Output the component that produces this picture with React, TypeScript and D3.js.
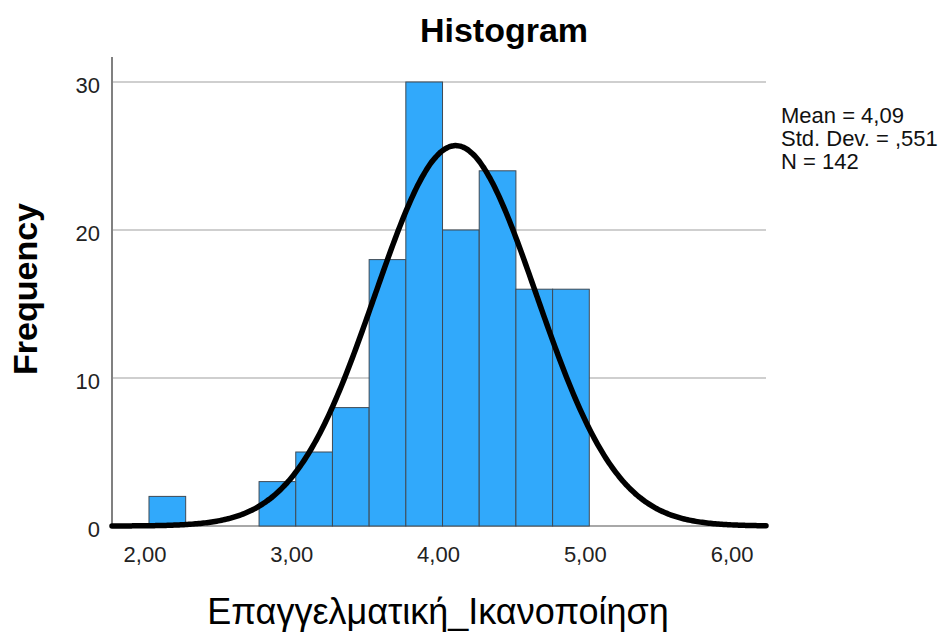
import React from "react";
import * as d3 from "d3";

const binStarts = [2.0, 2.75, 3.0, 3.25, 3.5, 3.75, 4.0, 4.25, 4.5, 4.75];
const binCounts = [2, 3, 5, 8, 18, 30, 20, 24, 16, 16];
const binWidth = 0.25;
const xTicks = [2, 3, 4, 5, 6];
const yTicks = [0, 10, 20, 30];
const statMean = 4.09;
const statSd = 0.551;
const statN = 142;
const statLines = ["Mean = 4,09", "Std. Dev. = ,551", "N = 142"];

const W = 946;
const H = 633;
const left = 112;
const right = 766;
const top = 57;
const bottom = 526;

export default function App() {
  const x = d3.scaleLinear().domain([1.748, 6.204]).range([left, right]);
  const y = d3.scaleLinear().domain([0, 30]).range([bottom, 82]);
  const font = "'Liberation Sans', Arial, sans-serif";
  const fmt = (v: number) => v.toFixed(2).replace(".", ",");

  const pdf = (v: number) =>
    (statN * binWidth) / (statSd * Math.sqrt(2 * Math.PI)) *
    Math.exp(-0.5 * ((v - statMean) / statSd) ** 2);
  const xs = d3.range(0, 401).map((i) => 1.748 + (i / 400) * (6.204 - 1.748));
  const line = d3
    .line<number>()
    .x((v) => x(v))
    .y((v) => y(pdf(v)))
    .curve(d3.curveBasis);

  return (
    <svg width={W} height={H} style={{ position: "absolute", left: 0, top: 0 }}>
      <rect x={0} y={0} width={W} height={H} fill="#fff" />
      <text x={504} y={42} textAnchor="middle" fontFamily={font} fontWeight="bold" fontSize={34}>
        Histogram
      </text>
      {yTicks.filter((t) => t > 0).map((t) => (
        <line key={t} x1={left} x2={right} y1={y(t)} y2={y(t)} stroke="#cfcfcf" strokeWidth={2} />
      ))}
      <line x1={left} x2={right} y1={bottom} y2={bottom} stroke="#a8a8a8" strokeWidth={2} />
      {binStarts.map((s, i) => (
        <rect
          key={i}
          x={x(s)}
          y={y(binCounts[i])}
          width={x(s + binWidth) - x(s)}
          height={y(0) - y(binCounts[i])}
          fill="#31a9fb"
          stroke="#3f4a55"
          strokeWidth={1}
        />
      ))}
      <line x1={left} x2={left} y1={top} y2={bottom + 1} stroke="#808080" strokeWidth={2} />
      <path d={line(xs) || ""} fill="none" stroke="#000" strokeWidth={5.5} strokeLinecap="round" />
      {yTicks.map((t) => (
        <text key={t} x={100} y={y(t) + 11} textAnchor="end" fontFamily={font} fontSize={22} fill="#222">
          {t}
        </text>
      ))}
      {xTicks.map((t) => (
        <text key={t} x={x(t) - 4} y={562} textAnchor="middle" fontFamily={font} fontSize={22} fill="#222">
          {fmt(t)}
        </text>
      ))}
      <text
        transform={`translate(37,289) rotate(-90)`}
        textAnchor="middle"
        fontFamily={font}
        fontWeight="bold"
        fontSize={34}
      >
        Frequency
      </text>
      <text x={438} y={624} textAnchor="middle" fontFamily={font} fontSize={36}>
        Επαγγελματική_Ικανοποίηση
      </text>
      {statLines.map((s, i) => (
        <text key={i} x={781} y={123 + i * 23} fontFamily={font} fontSize={22} fill="#111">
          {s}
        </text>
      ))}
    </svg>
  );
}
